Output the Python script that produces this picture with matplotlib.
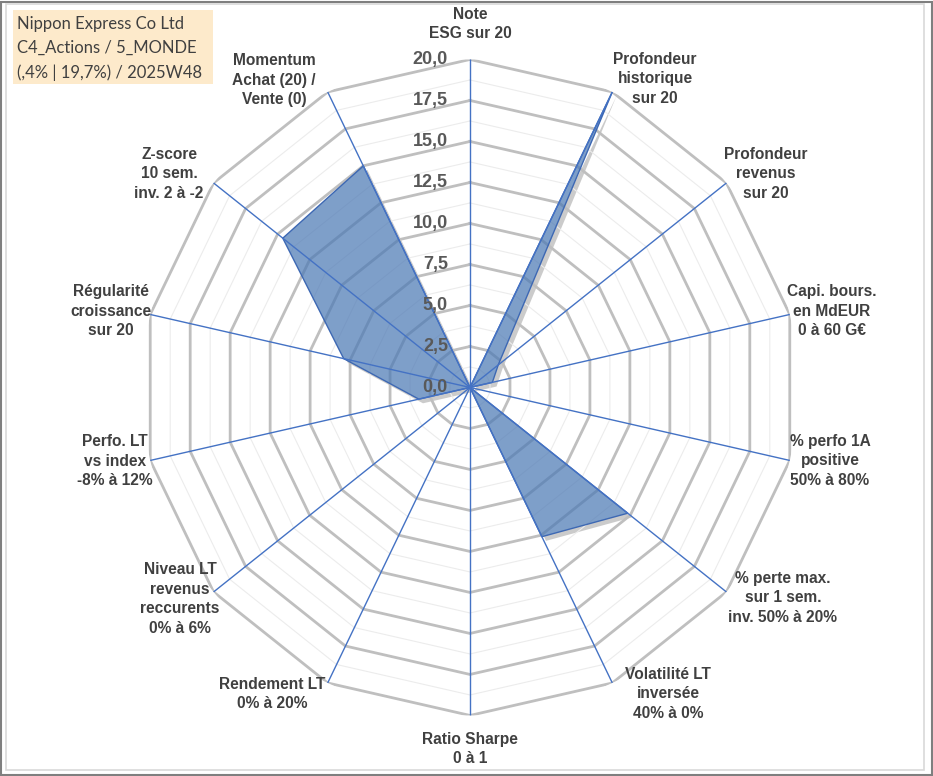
import numpy as np
import matplotlib
matplotlib.use('Agg')
import matplotlib.pyplot as plt
from matplotlib import patheffects as pe
from matplotlib.patches import Rectangle

# axis labels (clockwise from the top)
labels = [
    "Note\nESG sur 20",
    "Profondeur\nhistorique\nsur 20",
    "Profondeur\nrevenus\nsur 20",
    "Capi. bours.\nen MdEUR\n0 à 60 G€",
    "% perfo 1A\npositive\n50% à 80%",
    "% perte max.\nsur 1 sem.\ninv. 50% à 20%",
    "Volatilité LT\ninversée\n40% à 0%",
    "Ratio Sharpe\n0 à 1",
    "Rendement LT\n0% à 20%",
    "Niveau LT\nrevenus\nreccurents\n0% à 6%",
    "Perfo. LT\nvs index\n-8% à 12%",
    "Régularité\ncroissance\nsur 20",
    "Z-score\n10 sem.\ninv. 2 à -2",
    "Momentum\nAchat (20) /\nVente (0)",
]
values = [0, 20, 2.2, 1.4, 0, 12.3, 10.1, 0, 0, 0, 3.2, 7.9, 14.6, 15.0]
major_ticks = [0, 2.5, 5, 7.5, 10, 12.5, 15, 17.5, 20]
minor_ticks = [1.25, 3.75, 6.25, 8.75, 11.25, 13.75, 16.25, 18.75]
title_lines = ["Nippon Express Co Ltd", "C4_Actions / 5_MONDE", "(,4% | 19,7%) / 2025W48"]

# label centres in pixels (layout only)
label_pos = [(470, 24), (655, 79), (766, 174), (832, 311), (830, 461), (783, 598),
             (668, 694), (470, 749), (272, 694), (180, 599), (115, 461), (111, 311),
             (169, 174), (274, 80)]

n = len(labels)
theta = np.arange(n) * 2 * np.pi / n
theta_closed = np.append(theta, theta[0])
W, H = 933, 776

plt.rcParams['font.family'] = ['Liberation Sans', 'DejaVu Sans']
fig = plt.figure(figsize=(W / 100, H / 100), dpi=100)
fig.patch.set_facecolor('white')

# chart frame
fig.add_artist(Rectangle((0.001, 0.001), 0.998, 0.997, transform=fig.transFigure,
                         fill=False, ec='#7f7f7f', lw=1.5))
fig.add_artist(Rectangle((6 / W, 6 / H), 918 / W, 766 / H, transform=fig.transFigure,
                         fill=False, ec='#d9d9d9', lw=1.2))

ax = fig.add_axes([0.1522, 0.078, 0.7031, 0.8454], projection='polar')
ax.set_theta_zero_location('N')
ax.set_theta_direction(-1)
ax.set_ylim(0, 20)
ax.grid(False)
ax.set_xticks([])
ax.set_yticks([])
ax.spines['polar'].set_visible(False)
ax.patch.set_alpha(0)

vals = np.append(values, values[0])

# shadow of the series, masked under the series itself
ax.fill(theta_closed, vals, facecolor='none', edgecolor='none', zorder=0.5,
        path_effects=[pe.SimplePatchShadow(offset=(3, -3), shadow_rgbFace='#7f7f7f', alpha=0.4)])
ax.fill(theta_closed, vals, facecolor='white', edgecolor='none', zorder=0.6)

# polygon gridlines
for r in minor_ticks:
    ax.plot(theta_closed, [r] * (n + 1), color='#ececec', lw=0.8, zorder=1)
for r in major_ticks[1:]:
    ax.plot(theta_closed, [r] * (n + 1), color='#bfbfbf', lw=2.0, zorder=2)

# data polygon
ax.fill(theta_closed, vals, facecolor='#4d7ab5', alpha=0.72, edgecolor='none', zorder=3)
ax.plot(theta_closed, vals, color='#3d68b3', lw=1.0, zorder=4)

# spokes
for t in theta:
    ax.plot([t, t], [0, 20], color='#4472c4', lw=1.0, zorder=5)

# radial tick labels
for v in major_ticks:
    ax.annotate(f"{v:.1f}".replace('.', ','), xy=(0, v), xytext=(-22, 0),
                textcoords='offset pixels', ha='right', va='center',
                fontsize=13, fontweight='bold', color='#595959', zorder=6)

# axis labels
for (px, py), lab in zip(label_pos, labels):
    fig.text(px / W, 1 - py / H, lab, ha='center', va='center', multialignment='center',
             fontsize=11.2, fontweight='bold', color='#404040', linespacing=1.4)

# title box
fig.add_artist(Rectangle((13 / W, 1 - 84 / H), 200 / W, 74 / H, transform=fig.transFigure,
                         fc='#fdeacb', ec='none'))
fig.text(17 / W, 1 - 48.5 / H, "\n".join(title_lines), ha='left', va='center',
         fontsize=12, color='#404040', family=['Lato', 'DejaVu Sans'], linespacing=1.6)

fig.savefig('out.png', dpi=100)
